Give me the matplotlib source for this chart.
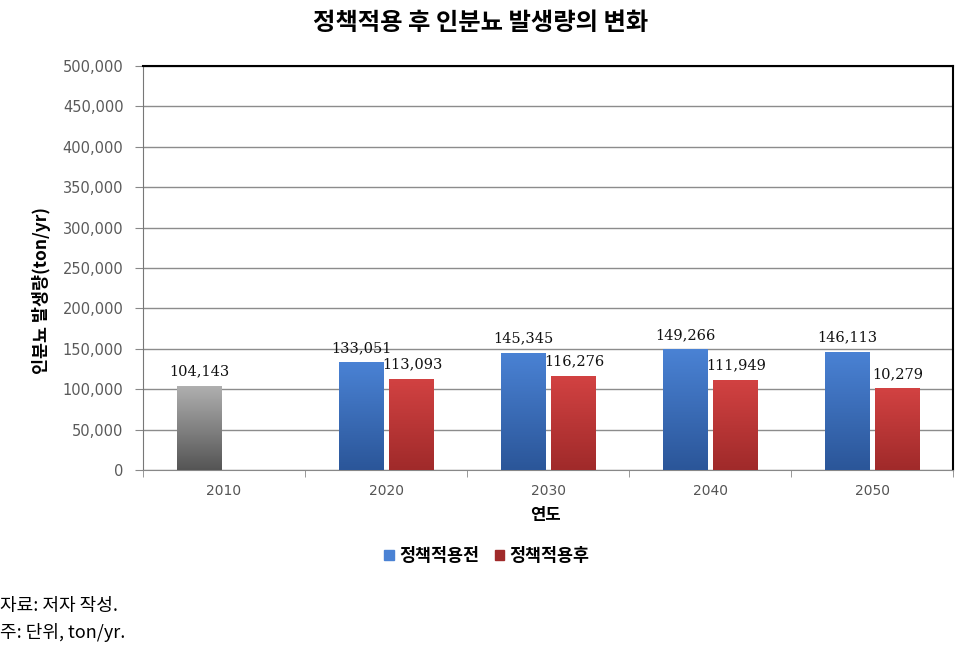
import numpy as np
import matplotlib
matplotlib.use('Agg')
import matplotlib.pyplot as plt
from matplotlib.patches import Patch
from matplotlib.colors import LinearSegmentedColormap
from matplotlib.ticker import MultipleLocator, FuncFormatter

plt.rcParams['font.family'] = ['Noto Sans CJK KR', 'DejaVu Sans']

years = ['2010', '2020', '2030', '2040', '2050']
before = [104143, 133051, 145345, 149266, 146113]
after = [None, 113093, 116276, 111949, 101279]
before_labels = ['104,143', '133,051', '145,345', '149,266', '146,113']
after_labels = [None, '113,093', '116,276', '111,949', '10,279']

title = '정책적용 후 인분뇨 발생량의 변화'
ylabel = '인분뇨 발생량(ton/yr)'
xlabel = '연도'
legend_names = ['정책적용전', '정책적용후']
notes = ['자료: 저자 작성.', '주: 단위, ton/yr.']

# gradients (top colour, bottom colour)
grad_gray = ('#b0b0b0', '#555555')
grad_blue = ('#4a82d4', '#2b5699')
grad_red = ('#d24242', '#a02a2a')


def gradient_bar(ax, x, h, w, colors):
    bar = ax.bar(x, h, w, color=colors[1], zorder=3)[0]
    cmap = LinearSegmentedColormap.from_list('g', [colors[1], colors[0]])
    grad = np.linspace(0, 1, 100).reshape(-1, 1)
    im = ax.imshow(grad, cmap=cmap, aspect='auto', origin='lower',
                   extent=(x - w / 2, x + w / 2, 0, h), zorder=3.5)
    im.set_clip_path(bar)
    return bar


fig = plt.figure(figsize=(9.62, 6.45), dpi=100)
ax = fig.add_axes([143 / 962, 1 - 470 / 645, (953 - 143) / 962, (470 - 66) / 645])

w = 0.272
off = 0.152
xs = np.arange(len(years))
for i, yr in enumerate(years):
    if after[i] is None:
        gradient_bar(ax, xs[i] - off, before[i], w, grad_gray)
    else:
        gradient_bar(ax, xs[i] - off, before[i], w, grad_blue)
        gradient_bar(ax, xs[i] + off, after[i], w, grad_red)
    ax.text(xs[i] - off, before[i] + 9000, before_labels[i], ha='center', va='bottom',
            fontsize=10.5, family='DejaVu Serif', color='#111111', zorder=5)
    if after[i] is not None:
        ax.text(xs[i] + off + 0.01, after[i] + 9000, after_labels[i], ha='center', va='bottom',
                fontsize=10.5, family='DejaVu Serif', color='#111111', zorder=5)

ax.set_xlim(-0.5, len(years) - 0.5)
ax.set_ylim(0, 500000)
ax.yaxis.set_major_locator(MultipleLocator(50000))
ax.yaxis.set_major_formatter(FuncFormatter(lambda v, p: f'{int(v):,}'))
ax.set_xticks(xs)
ax.set_xticklabels(years)
ax.set_xticks(np.arange(-0.5, len(years)), minor=True)
ax.tick_params(axis='x', which='major', length=0, pad=10, labelsize=10, labelcolor='#555555')
ax.tick_params(axis='x', which='minor', length=5, color='#888888')
ax.tick_params(axis='y', length=6, color='#888888', labelsize=10.5, labelcolor='#5a5a5a', pad=8)
for lbl in ax.get_xticklabels() + ax.get_yticklabels():
    lbl.set_family('DejaVu Sans')

ax.grid(axis='y', color='#8c8c8c', linewidth=1, zorder=0)
ax.set_axisbelow(True)
ax.spines['left'].set_color('#777777')
ax.spines['bottom'].set_color('#888888')
ax.spines['top'].set_color('black')
ax.spines['right'].set_color('black')
ax.spines['top'].set_linewidth(1.5)
ax.spines['right'].set_linewidth(1.5)

fig.text(481 / 962, 1 - 23 / 645, title, ha='center', va='center', fontsize=17.5, fontweight='bold')
fig.text(42 / 962, 1 - 290 / 645, ylabel, ha='center', va='center', rotation=90,
         fontsize=12.5, fontweight='bold')
fig.text(546 / 962, 1 - 515 / 645, xlabel, ha='center', va='center', fontsize=12, fontweight='bold')

handles = [Patch(color=grad_blue[0]), Patch(color=grad_red[1])]
leg = fig.legend(handles, legend_names, loc='center', bbox_to_anchor=(487 / 962, 1 - 556 / 645),
                 ncol=2, frameon=False, handlelength=0.55, handleheight=0.55, handletextpad=0.3,
                 columnspacing=0.9, prop={'weight': 'bold', 'size': 12.5})

fig.text(0.0, 1 - 606 / 645, notes[0], ha='left', va='center', fontsize=13)
fig.text(0.0, 1 - 632 / 645, notes[1], ha='left', va='center', fontsize=13)

fig.savefig('out.png', dpi=100)
